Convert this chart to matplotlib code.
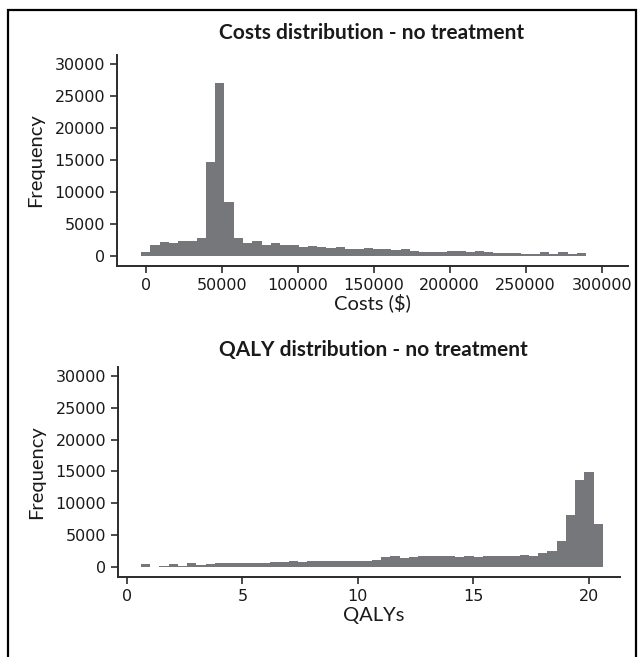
import numpy as np
import matplotlib
matplotlib.use("Agg")
import matplotlib.pyplot as plt
from matplotlib.patches import Rectangle

plt.rcParams["font.family"] = ["DejaVu Sans"]

# ---- data ----
cost_bin_first_edge = -3100.0
cost_bin_width = 6100.0
cost_counts = [650, 1670, 2190, 1980, 2300, 2300, 2770, 14670, 27050, 8400,
               2770, 1980, 2300, 1670, 1980, 1670, 1670, 1400, 1510, 1330,
               1250, 1360, 1100, 1100, 1200, 1040, 1040, 890, 1040, 835,
               680, 680, 680, 780, 780, 680, 780, 575, 520, 520,
               470, 365, 365, 575, 260, 575, 260, 420]

qaly_bin_first_edge = 0.6
qaly_bin_width = 0.4002
qaly_counts = [520, 0, 180, 500, 200, 650, 250, 400, 650, 600,
               680, 680, 680, 600, 820, 800, 950, 820, 950, 950,
               1000, 1000, 1000, 1000, 1020, 1150, 1620, 1780, 1470, 1520,
               1730, 1680, 1730, 1730, 1620, 1730, 1620, 1730, 1730, 1780,
               1780, 1940, 1780, 2150, 2570, 4140, 8120, 13730, 14990, 6810]

y_ticks = [0, 5000, 10000, 15000, 20000, 25000, 30000]
cost_ticks = [0, 50000, 100000, 150000, 200000, 250000, 300000]
qaly_ticks = [0, 5, 10, 15, 20]

titles = ["Costs distribution - no treatment", "QALY distribution - no treatment"]
xlabels = ["Costs ($)", "QALYs"]
ylabel = "Frequency"

# ---- style ----
BAR = "#76777b"
AX = "#2b2b2b"
W, H = 644, 657
fig = plt.figure(figsize=(W / 100, H / 100), dpi=100)

def px_axes(l, t, r, b):
    return fig.add_axes([l / W, 1 - b / H, (r - l) / W, (b - t) / H])

ax1 = px_axes(117, 55, 628, 266)
ax2 = px_axes(118, 367, 620, 577)

def draw(ax, first, width, counts, xlim, xticks):
    counts = np.asarray(counts, dtype=float)
    edges = first + width * np.arange(len(counts) + 1)
    ax.bar(edges[:-1], counts, width=np.diff(edges), align="edge",
           color=BAR, edgecolor="none", linewidth=0)
    ax.set_xlim(*xlim)
    ax.set_ylim(-1570, 31400)
    ax.set_yticks(y_ticks)
    ax.set_xticks(xticks)
    ax.set_xticklabels([str(t) for t in xticks])
    ax.set_yticklabels([str(t) for t in y_ticks])
    for s in ["top", "right"]:
        ax.spines[s].set_visible(False)
    for s in ["left", "bottom"]:
        ax.spines[s].set_color(AX)
        ax.spines[s].set_linewidth(1.4)
    ax.tick_params(axis="both", direction="out", length=5, width=1.2,
                   color=AX, labelcolor="#1a1a1a", labelsize=11.5)
    ax.set_facecolor("white")

draw(ax1, cost_bin_first_edge, cost_bin_width, cost_counts, (-18900, 317300), cost_ticks)
draw(ax2, qaly_bin_first_edge, qaly_bin_width, qaly_counts, (-0.39, 21.35), qaly_ticks)

lab_font = dict(family="Lato", fontsize=14.5, color="#1a1a1a")
for ax, xl, (yx, xx, xy) in [(ax1, xlabels[0], (-0.1585, 0.5, -0.175)),
                             (ax2, xlabels[1], (-0.163, 0.509, -0.181))]:
    ax.set_ylabel(ylabel, **lab_font)
    ax.set_xlabel(xl, **lab_font)
    ax.yaxis.label.set_verticalalignment("center")
    ax.xaxis.label.set_verticalalignment("center")
    ax.yaxis.set_label_coords(yx, 0.5)
    ax.xaxis.set_label_coords(xx, xy)

fig.text(372 / W, 1 - 33 / H, titles[0], ha="center", va="center",
         family="Lato", fontweight="bold", fontsize=15, color="#1a1a1a")
fig.text(373 / W, 1 - 350 / H, titles[1], ha="center", va="center",
         family="Lato", fontweight="bold", fontsize=15, color="#1a1a1a")

# outer frame
fig.patches.append(Rectangle((8 / W, -0.05), (636 - 8) / W, 1.05 - 10 / H,
                             transform=fig.transFigure, fill=False,
                             edgecolor="black", linewidth=1.6, clip_on=False))

fig.savefig("out.png", dpi=100, facecolor="white")
